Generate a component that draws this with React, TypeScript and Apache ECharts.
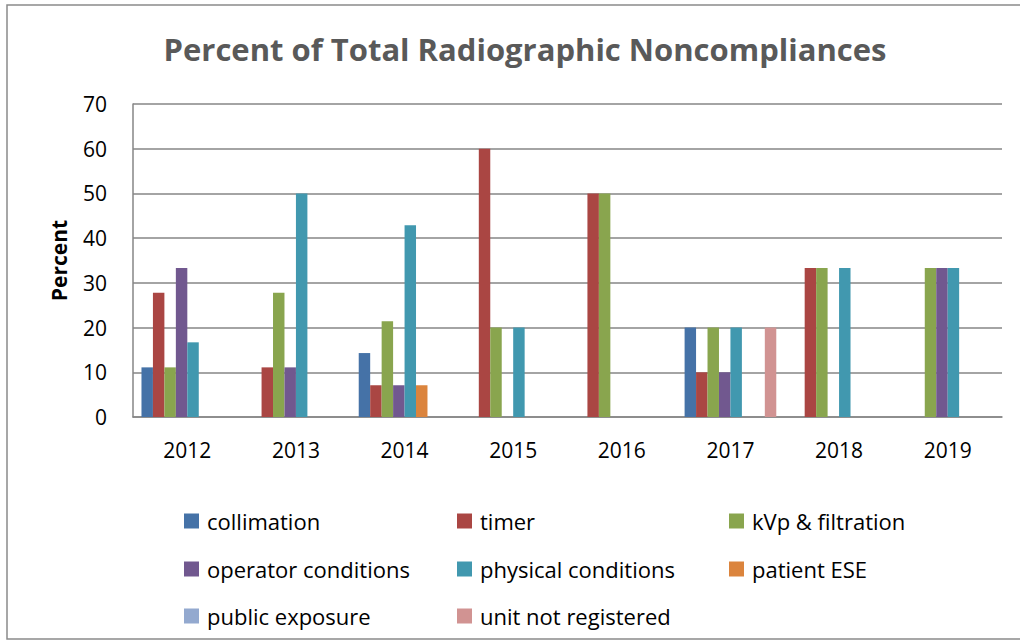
import React, { useEffect, useRef } from "react";
import * as echarts from "echarts";

const categories = ["2012", "2013", "2014", "2015", "2016", "2017", "2018", "2019"];
const seriesNames = [
  "collimation",
  "timer",
  "kVp & filtration",
  "operator conditions",
  "physical conditions",
  "patient ESE",
  "public exposure",
  "unit not registered",
];
const collimation = [11.1, 0, 14.3, 0, 0, 20, 0, 0];
const timer = [27.8, 11.1, 7.1, 60, 50, 10, 33.3, 0];
const kvp = [11.1, 27.8, 21.4, 20, 50, 20, 33.3, 33.3];
const operatorConditions = [33.3, 11.1, 7.1, 0, 0, 10, 0, 33.3];
const physicalConditions = [16.7, 50, 42.9, 20, 0, 20, 33.3, 33.3];
const patientESE = [0, 0, 7.1, 0, 0, 0, 0, 0];
const publicExposure = [0, 0, 0, 0, 0, 0, 0, 0];
const unitNotRegistered = [0, 0, 0, 0, 0, 20, 0, 0];
const yTicks = [0, 10, 20, 30, 40, 50, 60, 70];

const seriesData = [
  collimation,
  timer,
  kvp,
  operatorConditions,
  physicalConditions,
  patientESE,
  publicExposure,
  unitNotRegistered,
];
const colors = ["#4572A7", "#AA4643", "#89A54E", "#71588F", "#4198AF", "#DB843D", "#93A9CF", "#D19392"];

const legendCols = [184, 457, 729];
const legendRows = [521, 569, 616];

export default function App() {
  const ref = useRef<HTMLDivElement>(null);
  useEffect(() => {
    if (!ref.current) return;
    const chart = echarts.init(ref.current, null, { renderer: "svg" });
    const font = "'Open Sans', 'Noto Sans', sans-serif";
    const legends = seriesNames.map((name, i) => ({
      orient: "horizontal",
      left: legendCols[i % 3],
      top: legendRows[Math.floor(i / 3)] - 13,
      padding: 0,
      itemWidth: 15,
      itemHeight: 15,
      icon: "rect",
      selectedMode: false,
      data: [name],
      textStyle: {
        fontSize: 22,
        lineHeight: 26,
        color: "#000",
        fontFamily: font,
        padding: [0, 0, 0, 3],
      },
    }));
    chart.setOption({
      animation: false,
      color: colors,
      textStyle: { fontFamily: font },
      title: {
        text: "Percent of Total Radiographic Noncompliances",
        left: 520,
        textAlign: "center",
        top: 28,
        textStyle: { fontSize: 31, fontWeight: "bold", color: "#595959", fontFamily: font },
      },
      graphic: [
        {
          type: "rect",
          shape: { x: 7, y: 5, width: 1030, height: 634 },
          style: { fill: "none", stroke: "#8a8a8a", lineWidth: 1.5 },
          silent: true,
        },
      ],
      legend: legends,
      grid: { left: 133, right: 18, top: 104, bottom: 224, containLabel: false },
      xAxis: {
        type: "category",
        data: categories,
        axisLine: { lineStyle: { color: "#868686", width: 1.5 } },
        axisTick: { show: false },
        axisLabel: { fontSize: 21, color: "#000", margin: 22, fontFamily: font },
      },
      yAxis: {
        type: "value",
        min: 0,
        max: 70,
        interval: 10,
        name: "Percent",
        nameLocation: "middle",
        nameGap: 64,
        nameRotate: 90,
        nameTextStyle: { fontSize: 21, fontWeight: "bold", color: "#000", fontFamily: font },
        axisLine: { show: true, lineStyle: { color: "#868686", width: 1.5 } },
        axisTick: { show: false },
        axisLabel: {
          fontSize: 21,
          color: "#000",
          margin: 26,
          fontFamily: font,
          formatter: (v: number) => (yTicks.includes(v) ? String(v) : ""),
        },
        splitLine: { lineStyle: { color: "#868686", width: 1.5 } },
      },
      series: seriesNames.map((name, i) => ({
        name,
        type: "bar",
        data: seriesData[i],
        barGap: "0%",
        barCategoryGap: "15.6%",
        itemStyle: { color: colors[i] },
      })),
    });
    return () => chart.dispose();
  }, []);
  return (
    <div
      ref={ref}
      style={{ position: "absolute", left: 0, top: 0, width: 1020, height: 641, background: "#fff" }}
    />
  );
}
